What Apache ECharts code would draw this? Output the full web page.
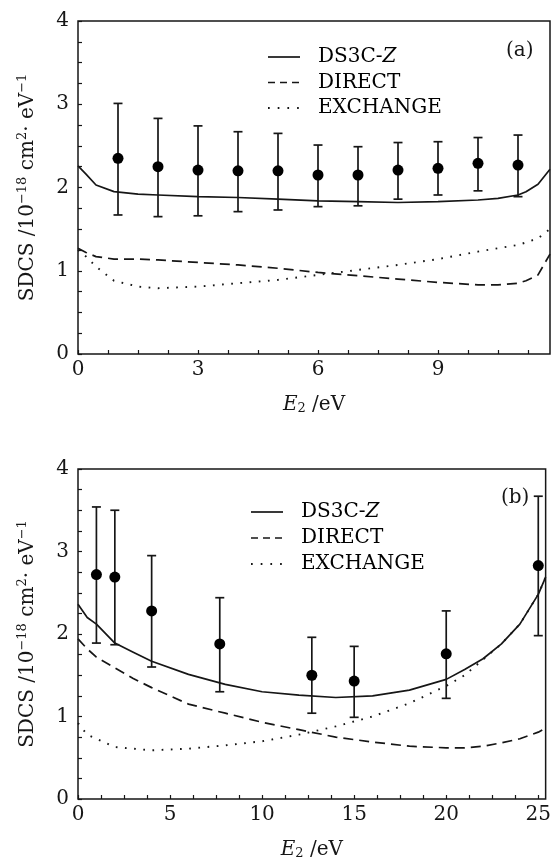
<!DOCTYPE html>
<html>
<head>
<meta charset="utf-8">
<script src="https://cdn.jsdelivr.net/npm/echarts@6/dist/echarts.min.js"></script>
<style>
  html, body { margin: 0; padding: 0; background: #fff; }
  #chart { width: 554px; height: 861px; }
</style>
</head>
<body>
<div id="chart"></div>
<script>
// ---- panel (a) ----
var aE = [0, 0.2, 0.45, 0.9, 1.5, 2, 3, 4, 5, 6, 7, 8, 9, 10, 10.5, 11, 11.2, 11.5, 11.8];
var aDS3C = [2.26, 2.16, 2.03, 1.95, 1.92, 1.91, 1.89, 1.88, 1.86, 1.84, 1.83, 1.82, 1.83, 1.85, 1.87, 1.91, 1.95, 2.04, 2.22];
var aDirect = [1.27, 1.22, 1.17, 1.14, 1.14, 1.13, 1.10, 1.07, 1.03, 0.98, 0.94, 0.90, 0.86, 0.83, 0.83, 0.85, 0.88, 0.95, 1.20];
var aExchange = [1.25, 1.17, 1.05, 0.88, 0.81, 0.79, 0.81, 0.85, 0.89, 0.95, 1.01, 1.07, 1.14, 1.23, 1.27, 1.31, 1.34, 1.39, 1.50];
var aExpE = [1, 2, 3, 4, 5, 6, 7, 8, 9, 10, 11];
var aExp = [2.35, 2.25, 2.21, 2.20, 2.20, 2.15, 2.15, 2.21, 2.23, 2.29, 2.27];
var aExpLo = [1.67, 1.65, 1.66, 1.71, 1.73, 1.77, 1.78, 1.86, 1.91, 1.96, 1.89];
var aExpHi = [3.01, 2.83, 2.74, 2.67, 2.65, 2.51, 2.49, 2.54, 2.55, 2.60, 2.63];

// ---- panel (b) ----
var bE = [0, 0.5, 1, 2, 3, 4, 6, 8, 10, 12, 14, 16, 18, 20, 21, 22, 23, 24, 25, 25.4];
var bDS3C = [2.36, 2.20, 2.12, 1.89, 1.78, 1.67, 1.51, 1.39, 1.30, 1.26, 1.23, 1.25, 1.32, 1.45, 1.57, 1.70, 1.88, 2.12, 2.48, 2.69];
var bDirect = [1.94, 1.82, 1.72, 1.59, 1.46, 1.35, 1.15, 1.04, 0.93, 0.84, 0.75, 0.69, 0.64, 0.62, 0.62, 0.64, 0.68, 0.73, 0.81, 0.86];
var bExchange = [0.92, 0.78, 0.73, 0.63, 0.61, 0.59, 0.61, 0.65, 0.70, 0.78, 0.88, 1.00, 1.16, 1.37, 1.50, 1.69, 1.88, 2.12, 2.48, 2.69];
var bExpE = [1, 2, 4, 7.7, 12.7, 15, 20, 25];
var bExp = [2.72, 2.69, 2.28, 1.88, 1.50, 1.43, 1.76, 2.83];
var bExpLo = [1.89, 1.87, 1.60, 1.30, 1.04, 0.99, 1.22, 1.98];
var bExpHi = [3.54, 3.50, 2.95, 2.44, 1.96, 1.85, 2.28, 3.67];

var seriesNames = ['DS3C-Z', 'DIRECT', 'EXCHANGE'];
var FONT = 'DejaVu Serif';
var INK = '#161616';

// solid / dashed / dotted; legend samples use a shorter dash so three fit
var styles = [
    { type: 'solid', width: 1.7, legendDash: null },
    { type: [10, 6], width: 1.7, legendDash: [7, 5] },
    { type: [1.7, 7.5], width: 1.9, legendDash: [1.7, 8] }
];

var chart = echarts.init(document.getElementById('chart'));

function pairs(xs, ys) {
    return xs.map(function (x, i) { return [x, ys[i]]; });
}

function isMultiple(v, step) {
    var r = v / step;
    return Math.abs(r - Math.round(r)) < 1e-6;
}

var richText = {
    t: { fontFamily: FONT, fontSize: 20, color: INK, lineHeight: 24, verticalAlign: 'bottom' },
    i: { fontFamily: FONT, fontSize: 20, color: INK, lineHeight: 24, verticalAlign: 'bottom', fontStyle: 'italic' },
    s: { fontFamily: FONT, fontSize: 13, color: INK, lineHeight: 14, verticalAlign: 'bottom', padding: [0, 0, 9, 0] },
    sub: { fontFamily: FONT, fontSize: 13, color: INK, lineHeight: 14, verticalAlign: 'bottom' }
};

function xAxisFor(idx, max, step, labelStep) {
    return {
        type: 'value', gridIndex: idx, min: 0, max: max, interval: step,
        axisLine: { show: false },
        axisTick: { show: true, inside: true, length: 4, lineStyle: { color: INK, width: 1.2 } },
        splitLine: { show: false },
        axisLabel: {
            color: INK, fontFamily: FONT, fontSize: 20, margin: 6, showMaxLabel: false,
            formatter: function (v) { return isMultiple(v, labelStep) ? String(v) : ''; }
        },
        name: '{i|E}{sub|2}{t| /eV}',
        nameLocation: 'middle', nameGap: 37,
        nameTextStyle: { rich: richText }
    };
}

function yAxisFor(idx) {
    return {
        type: 'value', gridIndex: idx, min: 0, max: 4, interval: 0.25,
        axisLine: { show: false },
        axisTick: { show: true, inside: true, length: 4, lineStyle: { color: INK, width: 1.2 } },
        splitLine: { show: false },
        axisLabel: {
            color: INK, fontFamily: FONT, fontSize: 20, margin: 9,
            formatter: function (v) { return isMultiple(v, 1) ? String(v) : ''; }
        },
        name: '{t|SDCS /10}{s|−18}{t| cm}{s|2}{t|· eV}{s|−1}',
        nameLocation: 'middle', nameGap: 40, nameRotate: 90,
        nameTextStyle: { rich: richText }
    };
}

function curves(idx, xs, ys1, ys2, ys3) {
    return [ys1, ys2, ys3].map(function (ys, k) {
        return {
            name: seriesNames[k], type: 'line', xAxisIndex: idx, yAxisIndex: idx,
            data: pairs(xs, ys), symbol: 'none', smooth: false, silent: true,
            lineStyle: { color: INK, width: styles[k].width, type: styles[k].type },
            itemStyle: { color: INK }, z: 2
        };
    });
}

function errorBars(idx, xs, lo, hi) {
    return {
        type: 'custom', xAxisIndex: idx, yAxisIndex: idx, silent: true, z: 3,
        data: xs.map(function (x, i) { return [x, lo[i], hi[i]]; }),
        encode: { x: 0, y: [1, 2] },
        renderItem: function (params, api) {
            var p1 = api.coord([api.value(0), api.value(1)]);
            var p2 = api.coord([api.value(0), api.value(2)]);
            var cap = 4.5;
            var st = { stroke: INK, lineWidth: 1.7 };
            return {
                type: 'group',
                children: [
                    { type: 'line', shape: { x1: p1[0], y1: p1[1], x2: p2[0], y2: p2[1] }, style: st },
                    { type: 'line', shape: { x1: p1[0] - cap, y1: p1[1], x2: p1[0] + cap, y2: p1[1] }, style: st },
                    { type: 'line', shape: { x1: p2[0] - cap, y1: p2[1], x2: p2[0] + cap, y2: p2[1] }, style: st }
                ]
            };
        }
    };
}

function points(idx, xs, ys) {
    return {
        name: 'EXP', type: 'scatter', xAxisIndex: idx, yAxisIndex: idx,
        data: pairs(xs, ys), symbol: 'circle', symbolSize: 11, silent: true,
        itemStyle: { color: '#000', opacity: 1 }, z: 4
    };
}

// legend drawn by hand: line sample + label for each curve
function legendGraphics(left, top, gap) {
    var out = [];
    var legendRich = {
        n: { fontFamily: FONT, fontSize: 20, color: INK },
        z: { fontFamily: FONT, fontSize: 20, color: INK, fontStyle: 'italic' }
    };
    seriesNames.forEach(function (name, k) {
        var y = top + k * gap;
        out.push({
            type: 'line', silent: true,
            shape: { x1: left, y1: y, x2: left + 32, y2: y },
            style: { stroke: INK, lineWidth: styles[k].width, lineDash: styles[k].legendDash }
        });
        out.push({
            type: 'text', silent: true, x: left + 50, y: y,
            style: {
                text: name === 'DS3C-Z' ? '{n|DS3C-}{z|Z}' : '{n|' + name + '}',
                rich: legendRich, verticalAlign: 'middle', align: 'left'
            }
        });
    });
    return out;
}

var option = {
    backgroundColor: '#fff',
    animation: false,
    grid: [
        { left: 78, width: 472, top: 21, height: 333, show: true, borderColor: INK, borderWidth: 1.5, backgroundColor: 'transparent' },
        { left: 78, width: 471, top: 469, height: 333, show: true, borderColor: INK, borderWidth: 1.5, backgroundColor: 'transparent' }
    ],
    xAxis: [xAxisFor(0, 11.8, 0.75, 3), xAxisFor(1, 25.4, 1.25, 5)],
    yAxis: [yAxisFor(0), yAxisFor(1)],
    graphic: [].concat(
        legendGraphics(268, 57, 25.5),
        legendGraphics(251, 512, 26),
        [
            { type: 'text', left: 506, top: 41, style: { text: '(a)', font: '20px "DejaVu Serif"', fill: INK } },
            { type: 'text', left: 501, top: 488, style: { text: '(b)', font: '20px "DejaVu Serif"', fill: INK } }
        ]
    ),
    series: [].concat(
        curves(0, aE, aDS3C, aDirect, aExchange),
        [errorBars(0, aExpE, aExpLo, aExpHi), points(0, aExpE, aExp)],
        curves(1, bE, bDS3C, bDirect, bExchange),
        [errorBars(1, bExpE, bExpLo, bExpHi), points(1, bExpE, bExp)]
    )
};

chart.setOption(option);
window.addEventListener('resize', function () { chart.resize(); });
</script>
</body>
</html>
